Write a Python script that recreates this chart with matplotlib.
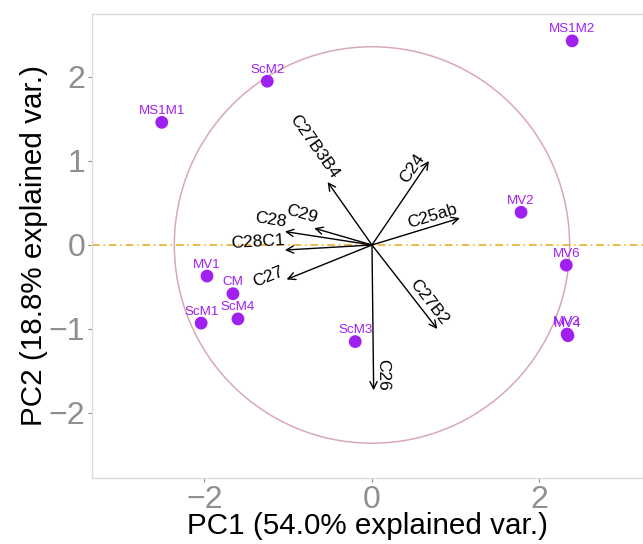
import numpy as np
import matplotlib
matplotlib.use("Agg")
import matplotlib.pyplot as plt
from matplotlib.patches import Circle

plt.rcParams['font.family'] = ['Liberation Sans', 'DejaVu Sans']

# Sample scores
samples = ["MS1M2", "ScM2", "MS1M1", "MV2", "MV6", "MV3", "MV4",
           "MV1", "CM", "ScM4", "ScM1", "ScM3"]
pc1 = [2.39, -1.25, -2.51, 1.78, 2.32, 2.33, 2.34, -1.97, -1.66, -1.60, -2.04, -0.20]
pc2 = [2.43, 1.95, 1.46, 0.39, -0.24, -1.06, -1.08, -0.37, -0.58, -0.88, -0.93, -1.15]

# Variable loadings (arrows)
variables = ["C27B3B4", "C29", "C28", "C28C1", "C27", "C26", "C27B2", "C24", "C25ab"]
load1 = [-0.53, -0.69, -1.04, -1.04, -1.02, 0.02, 0.78, 0.68, 1.05]
load2 = [0.75, 0.20, 0.16, -0.06, -0.41, -1.73, -1.00, 1.00, 0.32]

circle_radius = 2.36
xticks = [-2, 0, 2]
yticks = [-2, -1, 0, 1, 2]

fig = plt.figure(figsize=(6.43, 5.44), dpi=100)
ax = fig.add_axes([92/643, (544-478)/544, 1 - 92/643, (478-14)/544])

ax.set_xlim(-3.343, 3.236)
ax.set_ylim(-2.774, 2.75)

# circle
ax.add_patch(Circle((0, 0), circle_radius, fill=False, edgecolor='#d8a9b2', lw=1.1, zorder=1))

# horizontal dash-dot line
ax.axhline(0, color='#eaa51c', lw=1.1, ls=(0, (5, 2.5, 1, 2.5)), zorder=1)

# arrows and labels
for name, x, y in zip(variables, load1, load2):
    ax.annotate('', xy=(x, y), xytext=(0, 0),
                arrowprops=dict(arrowstyle='->', lw=1.0, color='black',
                                mutation_scale=13, shrinkA=0, shrinkB=0),
                zorder=3)
    ang = np.degrees(np.arctan(y / x))
    th = np.radians(ang)
    off = 1.5
    ax.annotate(name, (x, y), xytext=(-np.sin(th) * off, np.cos(th) * off),
                textcoords='offset points', rotation=ang, rotation_mode='anchor',
                ha='right', va='bottom', fontsize=12.5, color='black', zorder=4)

# points
ax.scatter(pc1, pc2, s=85, color='#a020f0', zorder=5, edgecolors='none')
for name, x, y in zip(samples, pc1, pc2):
    ax.annotate(name, (x, y), xytext=(0, 4), textcoords='offset points',
                ha='center', va='bottom', fontsize=9.6, color='#a020f0', zorder=6)

ax.set_xticks(xticks)
ax.set_yticks(yticks)
ax.set_xticklabels(['\u22122', '0', '2'])
ax.set_yticklabels(['\u22122', '\u22121', '0', '1', '2'])
ax.tick_params(axis='both', colors='#8f8f8f', labelsize=23, length=3, width=0.8, pad=2)
for sp in ax.spines.values():
    sp.set_color('#dcdcdc')
    sp.set_linewidth(1.0)

ax.set_xlabel('PC1 (54.0% explained var.)', fontsize=21.3, color='black', labelpad=-2)
ax.set_ylabel('PC2 (18.8% explained var.)', fontsize=21.3, color='black', labelpad=0)

fig.savefig('out.png', dpi=100)
